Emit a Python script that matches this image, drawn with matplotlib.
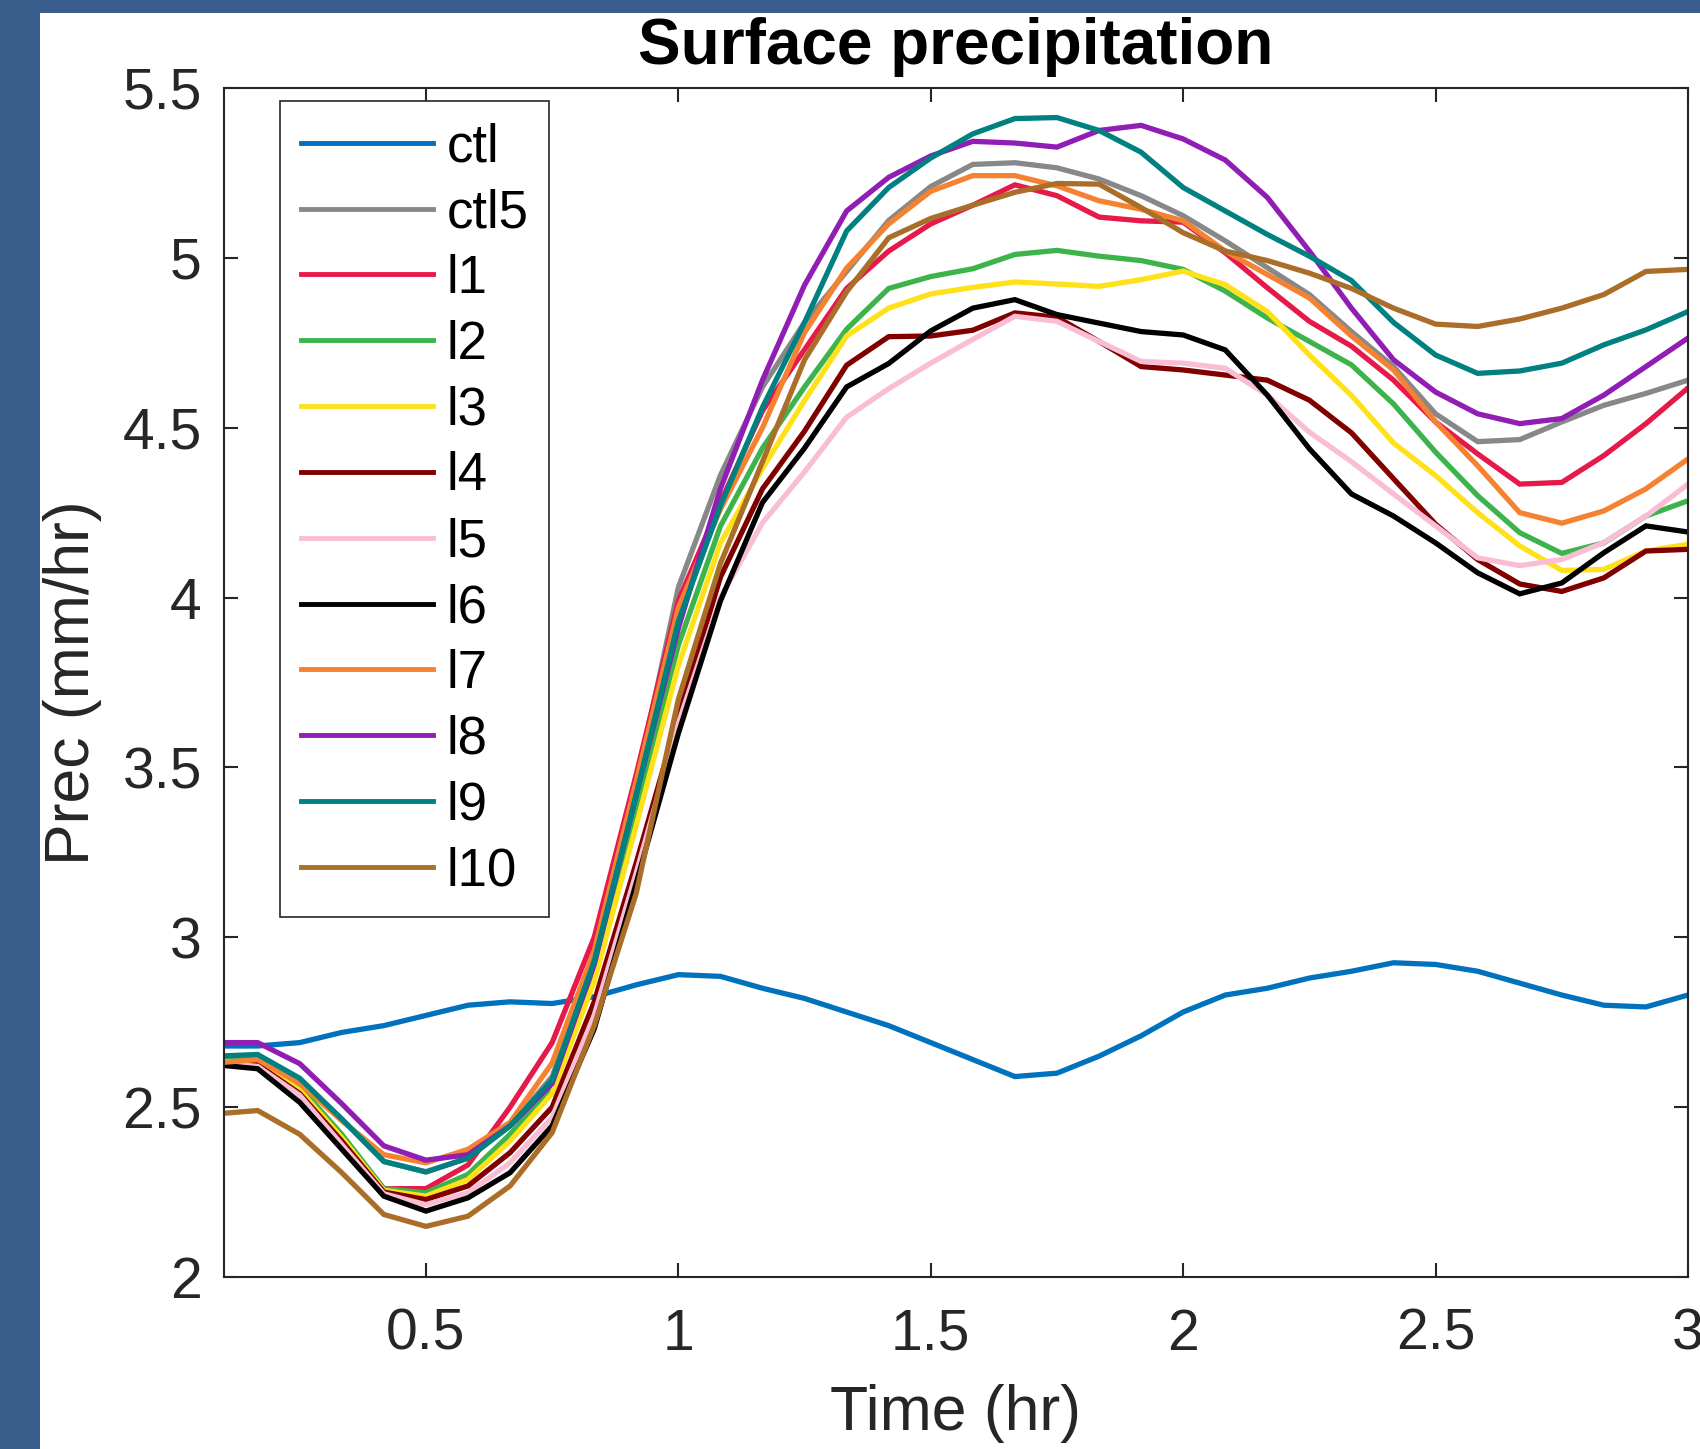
import numpy as np
import matplotlib
matplotlib.use("Agg")
from matplotlib import pyplot as plt
from matplotlib.patches import Rectangle

plt.rcParams["font.family"] = ["Liberation Sans", "DejaVu Sans"]

# time in minutes, every 5 min
minutes = list(range(5, 185, 5))

ctl = [2.68, 2.68, 2.69, 2.72, 2.74, 2.77, 2.80, 2.81, 2.805, 2.825, 2.86, 2.89,
       2.885, 2.85, 2.82, 2.78, 2.74, 2.69, 2.64, 2.59, 2.60, 2.65, 2.71, 2.78,
       2.83, 2.85, 2.88, 2.90, 2.925, 2.92, 2.90, 2.865, 2.83, 2.80, 2.795, 2.83]
ctl5 = [2.645, 2.65, 2.58, 2.465, 2.34, 2.31, 2.35, 2.445, 2.59, 2.93, 3.45, 4.03,
        4.36, 4.62, 4.81, 4.96, 5.11, 5.21, 5.275, 5.28, 5.265, 5.232, 5.183, 5.124,
        5.05, 4.971, 4.892, 4.783, 4.68, 4.541, 4.459, 4.465, 4.517, 4.566, 4.601, 4.64]
l1 = [2.64, 2.635, 2.55, 2.41, 2.26, 2.26, 2.33, 2.50, 2.69, 3.00, 3.48, 3.99,
      4.28, 4.55, 4.73, 4.91, 5.02, 5.10, 5.155, 5.215, 5.183, 5.12, 5.109, 5.105,
      5.015, 4.912, 4.813, 4.74, 4.64, 4.517, 4.423, 4.334, 4.339, 4.418, 4.512, 4.617]
l2 = [2.645, 2.64, 2.56, 2.42, 2.26, 2.248, 2.302, 2.42, 2.56, 2.90, 3.38, 3.86,
      4.21, 4.44, 4.62, 4.79, 4.91, 4.945, 4.968, 5.01, 5.022, 5.005, 4.992, 4.966,
      4.902, 4.823, 4.754, 4.685, 4.57, 4.428, 4.30, 4.191, 4.13, 4.161, 4.24, 4.285]
l3 = [2.635, 2.63, 2.55, 2.41, 2.255, 2.238, 2.287, 2.40, 2.54, 2.87, 3.33, 3.80,
      4.16, 4.38, 4.58, 4.77, 4.852, 4.894, 4.913, 4.929, 4.923, 4.916, 4.936, 4.961,
      4.921, 4.842, 4.714, 4.595, 4.455, 4.359, 4.25, 4.152, 4.08, 4.083, 4.137, 4.157]
l4 = [2.63, 2.625, 2.54, 2.40, 2.25, 2.228, 2.268, 2.366, 2.50, 2.81, 3.22, 3.65,
      4.06, 4.32, 4.49, 4.684, 4.768, 4.77, 4.787, 4.838, 4.825, 4.754, 4.68, 4.67,
      4.655, 4.64, 4.581, 4.485, 4.35, 4.216, 4.112, 4.04, 4.018, 4.058, 4.137, 4.142]
l5 = [2.63, 2.62, 2.535, 2.39, 2.245, 2.213, 2.248, 2.336, 2.47, 2.77, 3.19, 3.63,
      4.00, 4.22, 4.37, 4.531, 4.615, 4.69, 4.76, 4.828, 4.813, 4.754, 4.695, 4.69,
      4.675, 4.596, 4.487, 4.40, 4.305, 4.211, 4.117, 4.094, 4.112, 4.162, 4.24, 4.334]
l6 = [2.625, 2.613, 2.514, 2.376, 2.238, 2.194, 2.233, 2.307, 2.445, 2.73, 3.16, 3.60,
      3.99, 4.28, 4.44, 4.62, 4.689, 4.785, 4.852, 4.877, 4.833, 4.808, 4.783, 4.773,
      4.729, 4.596, 4.438, 4.305, 4.24, 4.161, 4.073, 4.011, 4.043, 4.132, 4.211, 4.193]
l7 = [2.63, 2.64, 2.57, 2.46, 2.36, 2.336, 2.376, 2.455, 2.63, 2.96, 3.46, 3.97,
      4.26, 4.50, 4.78, 4.97, 5.10, 5.196, 5.242, 5.242, 5.212, 5.168, 5.143, 5.109,
      5.02, 4.951, 4.882, 4.77, 4.67, 4.517, 4.388, 4.25, 4.219, 4.255, 4.32, 4.408]
l8 = [2.69, 2.69, 2.628, 2.51, 2.386, 2.344, 2.36, 2.445, 2.57, 2.92, 3.42, 3.91,
      4.32, 4.64, 4.92, 5.138, 5.237, 5.30, 5.343, 5.338, 5.326, 5.375, 5.39, 5.35,
      5.288, 5.178, 5.02, 4.852, 4.70, 4.605, 4.541, 4.512, 4.527, 4.596, 4.68, 4.764]
l9 = [2.65, 2.655, 2.585, 2.465, 2.34, 2.309, 2.35, 2.445, 2.58, 2.93, 3.42, 3.93,
      4.27, 4.56, 4.81, 5.079, 5.207, 5.294, 5.365, 5.41, 5.413, 5.375, 5.311, 5.207,
      5.138, 5.069, 5.005, 4.933, 4.81, 4.714, 4.66, 4.667, 4.69, 4.744, 4.788, 4.842]
l10 = [2.48, 2.49, 2.42, 2.307, 2.184, 2.149, 2.179, 2.268, 2.425, 2.74, 3.13, 3.70,
       4.10, 4.40, 4.70, 4.90, 5.059, 5.116, 5.155, 5.193, 5.219, 5.217, 5.148, 5.074,
       5.02, 4.992, 4.955, 4.91, 4.852, 4.805, 4.798, 4.82, 4.852, 4.892, 4.96, 4.966]

names = ["ctl", "ctl5", "l1", "l2", "l3", "l4", "l5", "l6", "l7", "l8", "l9", "l10"]
series = [ctl, ctl5, l1, l2, l3, l4, l5, l6, l7, l8, l9, l10]
colors = ["#0072BD", "#888888", "#E6194B", "#3CB44B", "#FFE119", "#800000",
          "#FABED4", "#000000", "#F58231", "#911EB4", "#008080", "#AA6E28"]

time_hr = np.array(minutes) / 60.0

fig = plt.figure(figsize=(17, 14.49), dpi=100, facecolor="#3A5E8B")
# white slide area behind the axes
fig.patches.append(Rectangle((40 / 1700, 0), 1, 1 - 13 / 1449, transform=fig.transFigure,
                             facecolor="white", edgecolor="none", zorder=-10))

ax = fig.add_axes([224 / 1700, 1 - 1277 / 1449, 1464 / 1700, 1189 / 1449])
for name, vals, c in zip(names, series, colors):
    ax.plot(time_hr, vals, color=c, lw=3.8, label=name, solid_joinstyle="miter")

ax.set_xlim(0.1, 3)
ax.set_ylim(2, 5.5)
ax.set_xticks([0.5, 1, 1.5, 2, 2.5, 3])
ax.set_xticklabels(["0.5", "1", "1.5", "2", "2.5", "3"])
ax.set_yticks([2, 2.5, 3, 3.5, 4, 4.5, 5, 5.5])
ax.set_yticklabels(["2", "2.5", "3", "3.5", "4", "4.5", "5", "5.5"])

tc = "#262626"
for s in ax.spines.values():
    s.set_color(tc)
    s.set_linewidth(1.5)
ax.tick_params(direction="in", length=10, width=1.5, colors=tc, labelsize=41,
               top=True, right=True, labelcolor=tc)
ax.tick_params(axis="x", pad=22)
ax.tick_params(axis="y", pad=16)

ax.set_xlabel("Time (hr)", fontsize=45, color=tc, labelpad=16)
ax.set_ylabel("Prec (mm/hr)", fontsize=45, color=tc, labelpad=15)
ax.set_title("Surface precipitation", fontsize=46, fontweight="bold", pad=17)

leg = ax.legend(loc="upper left", bbox_to_anchor=(0.0383, 0.989), borderaxespad=0,
                fontsize=38, fancybox=False, framealpha=1, edgecolor=tc,
                handlelength=2.5, handletextpad=0.25, labelspacing=0.3,
                borderpad=0.4)
leg.get_frame().set_linewidth(1.2)
for line in leg.get_lines():
    line.set_linewidth(3.5)

fig.savefig("out.png", dpi=100, facecolor=fig.get_facecolor())
